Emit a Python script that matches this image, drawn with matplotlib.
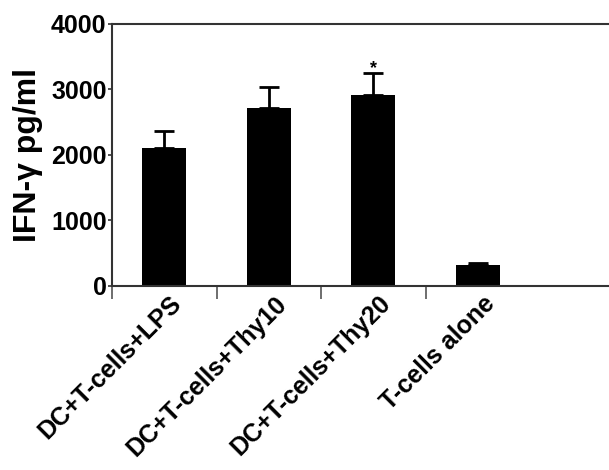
import matplotlib
matplotlib.use("Agg")
import matplotlib.pyplot as plt
import numpy as np

# Values
groups = ["DC+T-cells+LPS", "DC+T-cells+Thy10", "DC+T-cells+Thy20", "T-cells alone"]
ifn_gamma = [2100, 2720, 2910, 320]
sem_upper = [265, 315, 340, 25]
star_group = 2

plt.rcParams["font.family"] = ["Liberation Sans", "DejaVu Sans"]
plt.rcParams["font.weight"] = "bold"

fig = plt.figure(figsize=(6.09, 4.70), dpi=100)
ax = fig.add_axes([0.184, 0.3915, 0.816, 0.5575])

x = np.arange(len(groups))
ax.bar(x, ifn_gamma, width=0.42, color="black", zorder=2)
ax.errorbar(x, ifn_gamma, yerr=[np.zeros(len(x)), sem_upper], fmt="none",
            ecolor="black", elinewidth=2, capsize=7, capthick=2, zorder=3)

# significance marker just above the error bar
ax.text(x[star_group], ifn_gamma[star_group] + sem_upper[star_group], "*",
        ha="center", va="baseline", fontsize=13, fontweight="bold")

ax.set_xlim(-0.5, 4.256)
ax.set_ylim(0, 4000)
ax.set_yticks([0, 1000, 2000, 3000, 4000])
ax.tick_params(axis="y", labelsize=18, length=3, width=1.2, color="#333333", pad=1)

ax.set_xticks(x + 0.05)
ax.set_xticklabels(groups, rotation=45, ha="right", rotation_mode="anchor",
                   fontsize=18, fontweight="bold")
ax.tick_params(axis="x", which="major", length=0, pad=4)
ax.set_xticks(np.arange(-0.5, 3.0, 1.0), minor=True)
ax.tick_params(axis="x", which="minor", length=9, width=1.2, color="#555555")

ax.set_ylabel("IFN-γ pg/ml", fontsize=23, fontweight="bold", labelpad=6)

for side in ["left", "bottom", "top"]:
    ax.spines[side].set_linewidth(1.5)
    ax.spines[side].set_color("#333333")
ax.spines["right"].set_visible(False)

fig.savefig("out.png", dpi=100)
